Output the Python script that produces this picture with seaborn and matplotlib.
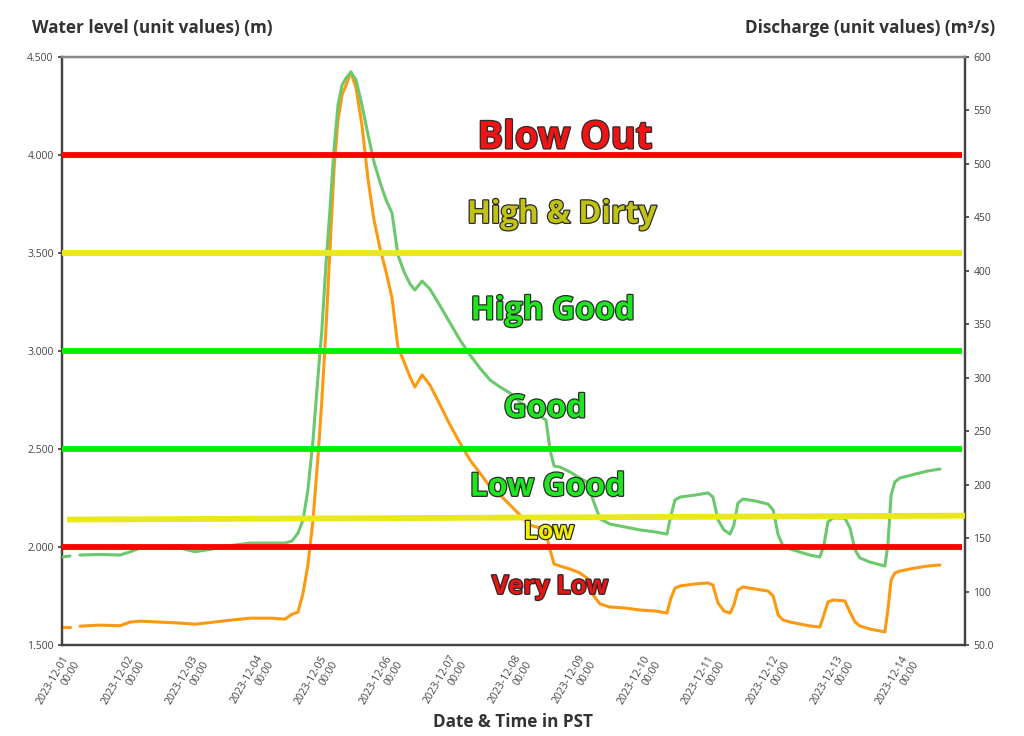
import numpy as np
import pandas as pd
import matplotlib
matplotlib.use("Agg")
import matplotlib.pyplot as plt
import matplotlib.patheffects as pe
import matplotlib.transforms as mtransforms
import seaborn as sns

# ---------------- data ----------------
start_time = "2023-12-01 00:00"
hours = [0, 3.0, 4.5, 6.7, 14.1, 21.6, 25.3, 29.0, 36.5, 43.9, 49.5, 55.1, 62.5, 70.0, 77.4, 83.0,
         85.6, 87.8, 89.7, 91.5, 93.4, 95.3, 96.7, 98.2, 99.7, 101.2, 102.7, 104.2, 105.7, 107.5,
         109.4, 111.6, 113.9, 116.1, 118.3, 120.6, 122.8, 125.0, 127.3, 129.5, 131.3, 134.0, 136.9,
         140.7, 144.4, 148.1, 151.8, 155.5, 159.3, 163.0, 166.7, 170.4, 174.1, 177.9, 180.1, 181.6,
         183.1, 185.3, 189.0, 192.7, 195.3, 197.6, 200.2, 203.9, 209.5, 215.1, 220.7, 225.1, 226.6,
         228.1, 230.0, 235.5, 240.4, 242.2, 244.1, 246.3, 248.6, 250.0, 251.5, 253.4, 257.9, 262.7,
         264.6, 266.5, 268.3, 270.9, 274.6, 278.3, 282.0, 283.5, 285.0, 286.9, 291.3, 293.2, 295.1,
         296.9, 300.6, 306.2, 307.3, 308.5, 309.9, 311.8, 317.4, 322.2, 326.7]

water_level = [1.949, 1.954, np.nan, 1.959, 1.962, 1.959, 1.975, 1.995, 1.995, 1.995, 1.976, 1.988,
               2.007, 2.020, 2.020, 2.020, 2.031, 2.071, 2.138, 2.291, 2.546, 2.878, 3.107, 3.439,
               3.719, 4.026, 4.255, 4.357, 4.393, 4.423, 4.383, 4.255, 4.102, 3.964, 3.862, 3.770,
               3.704, 3.490, 3.403, 3.342, 3.311, 3.357, 3.316, 3.230, 3.143, 3.056, 2.980, 2.913,
               2.852, 2.816, 2.786, 2.740, 2.699, 2.668, 2.648, 2.495, 2.413, 2.408, 2.383, 2.352,
               2.332, 2.240, 2.143, 2.117, 2.102, 2.087, 2.077, 2.066, 2.163, 2.240, 2.255, 2.265,
               2.276, 2.255, 2.138, 2.087, 2.066, 2.112, 2.224, 2.245, 2.235, 2.219, 2.189, 2.061,
               2.005, 1.990, 1.974, 1.959, 1.949, 2.010, 2.128, 2.148, 2.148, 2.097, 1.985, 1.944,
               1.923, 1.903, 2.010, 2.265, 2.332, 2.352, 2.372, 2.388, 2.398]

discharge = [66.8, 66.8, np.nan, 67.6, 68.6, 68.0, 71.4, 72.3, 71.4, 70.5, 69.5, 71.0, 73.2, 75.1,
             75.1, 74.2, 78.8, 80.7, 98.6, 124.8, 166.9, 227.7, 279.2, 344.6, 419.5, 494.3, 541.1,
             564.5, 573.8, 586.0, 571.0, 536.4, 484.9, 447.5, 421.3, 398.9, 374.6, 328.7, 314.7,
             300.7, 291.3, 302.6, 293.2, 274.5, 255.8, 239.0, 223.1, 210.9, 197.8, 190.3, 181.0,
             171.6, 162.2, 159.4, 154.8, 138.9, 125.8, 123.9, 121.1, 117.4, 112.7, 96.8, 88.4,
             85.5, 84.6, 82.7, 81.8, 79.9, 94.0, 103.3, 105.2, 107.1, 108.0, 106.1, 89.3, 81.8,
             79.9, 87.4, 101.4, 104.3, 102.4, 100.5, 95.8, 78.0, 73.4, 71.5, 69.6, 67.8, 66.8,
             78.0, 90.2, 92.1, 91.2, 80.9, 71.5, 67.8, 64.9, 62.2, 82.7, 110.8, 117.4, 119.2,
             122.0, 123.9, 124.8]

# threshold levels (m) and zone labels
threshold_levels = [4.0, 3.5, 3.0, 2.5, 2.0]
threshold_colors = ["#ff0000", "#e8e81a", "#00f000", "#00f000", "#ff0000"]
low_line_levels = [2.14, 2.16]          # slightly sloping "Low" line (start, end)
low_line_hours = [1.9, 336.0]

zone_labels = ["Blow Out", "High & Dirty", "High Good", "Good", "Low Good", "Low", "Very Low"]
zone_label_levels = [4.085, 3.695, 3.205, 2.705, 2.305, 2.075, 1.80]
zone_label_days = [7.80, 7.75, 7.61, 7.49, 7.53, 7.55, 7.57]
zone_label_colors = ["#f01414", "#c2c214", "#1ee61e", "#1ee61e", "#1ee61e", "#f0f000", "#e81414"]
zone_label_sizes = [27.5, 22.5, 23, 23, 23, 18, 18.5]

tick_days = [f"2023-12-{d:02d}" for d in range(1, 15)]
left_ticks = [1.5, 2.0, 2.5, 3.0, 3.5, 4.0, 4.5]
right_ticks = [50, 100, 150, 200, 250, 300, 350, 400, 450, 500, 550, 600]
right_tick_labels = ["50.0", "100", "150", "200", "250", "300", "350", "400", "450", "500", "550", "600"]

# ---------------- build frame ----------------
t0 = pd.Timestamp(start_time)
df = pd.DataFrame({"hours": hours, "level": water_level, "discharge": discharge})
df["time"] = t0 + pd.to_timedelta(df["hours"], unit="h")
df["segment"] = df["level"].isna().cumsum()
df = df.dropna()

sns.set_theme(style="white")
plt.rcParams["font.family"] = ["Open Sans", "DejaVu Sans"]

fig = plt.figure(figsize=(10.24, 7.36), dpi=100)
ax = fig.add_axes([62 / 1024, 1 - 645 / 736, (965 - 62) / 1024, (645 - 57) / 736])
ax2 = ax.twinx()
ax.set_zorder(ax2.get_zorder() + 1)
ax.patch.set_visible(False)

# discharge (right axis)
sns.lineplot(data=df, x="time", y="discharge", units="segment", estimator=None,
             ax=ax2, color="#fb9a12", linewidth=2.2, zorder=3)
# water level (left axis)
sns.lineplot(data=df, x="time", y="level", units="segment", estimator=None,
             ax=ax, color="#6cc86c", linewidth=2.2, zorder=3)

x0 = t0
x1 = t0 + pd.Timedelta(days=14)
ax.set_xlim(x0, x1)
ax2.set_xlim(x0, x1)
ax.set_ylim(1.5, 4.5)
ax2.set_ylim(50, 600)

# thresholds
for lvl, col in zip(threshold_levels, threshold_colors):
    ax.plot([x0, x1 - pd.Timedelta(hours=1)], [lvl, lvl], color=col, lw=4.2, zorder=4,
            solid_capstyle="butt")
low_t = [t0 + pd.Timedelta(hours=h) for h in low_line_hours]
ax.plot(low_t, low_line_levels, color="#e8e81a", lw=4.2, zorder=4, solid_capstyle="butt")

# zone labels
for txt, lvl, dd, col, sz in zip(zone_labels, zone_label_levels, zone_label_days,
                                 zone_label_colors, zone_label_sizes):
    ax.text(t0 + pd.Timedelta(hours=dd * 24), lvl, txt, color=col, fontsize=sz,
            fontweight="bold", ha="center", va="center", zorder=6,
            path_effects=[pe.withStroke(linewidth=1.8, foreground="#2a2a2a")])

# ticks
tick_pos = [pd.Timestamp(d) for d in tick_days]
ax.set_xticks(tick_pos)
ax.set_xticklabels([f"{d}\n00:00" for d in tick_days], rotation=60, ha="right",
                   va="top", rotation_mode="anchor", ma="right", fontsize=7.5, color="#444444")
offset = mtransforms.ScaledTranslation(10 / 100, 0, fig.dpi_scale_trans)
for lab in ax.get_xticklabels():
    lab.set_transform(lab.get_transform() + offset)
ax2.set_xticks(tick_pos)
ax2.xaxis.grid(True, color="#dddddd", lw=1)
ax.xaxis.grid(False)

ax.set_yticks(left_ticks)
ax.set_yticklabels([f"{v:.3f}" for v in left_ticks], fontsize=7.5, color="#444444")
ax2.set_yticks(right_ticks)
ax2.set_yticklabels(right_tick_labels, fontsize=7.5, color="#444444")

ax.tick_params(axis="both", length=3, color="#444444", pad=3)
ax2.tick_params(axis="y", length=3, color="#444444", pad=3)

for a in (ax, ax2):
    for s in a.spines.values():
        s.set_color("#444444")
        s.set_linewidth(1.6)
ax.spines["top"].set_color("#888888")

ax.set_xlabel("")
ax.set_ylabel("")
ax2.set_ylabel("")

fig.text(32 / 1024, 1 - 28 / 736, "Water level (unit values) (m)", fontsize=12.3,
         fontweight="bold", color="#333333", ha="left", va="center")
fig.text(995 / 1024, 1 - 28 / 736, "Discharge (unit values) (m³/s)", fontsize=12.3,
         fontweight="bold", color="#333333", ha="right", va="center")
fig.text(513 / 1024, 1 - 722 / 736, "Date & Time in PST", fontsize=12.3,
         fontweight="bold", color="#333333", ha="center", va="center")

fig.savefig("out.png", dpi=100, facecolor="white")
